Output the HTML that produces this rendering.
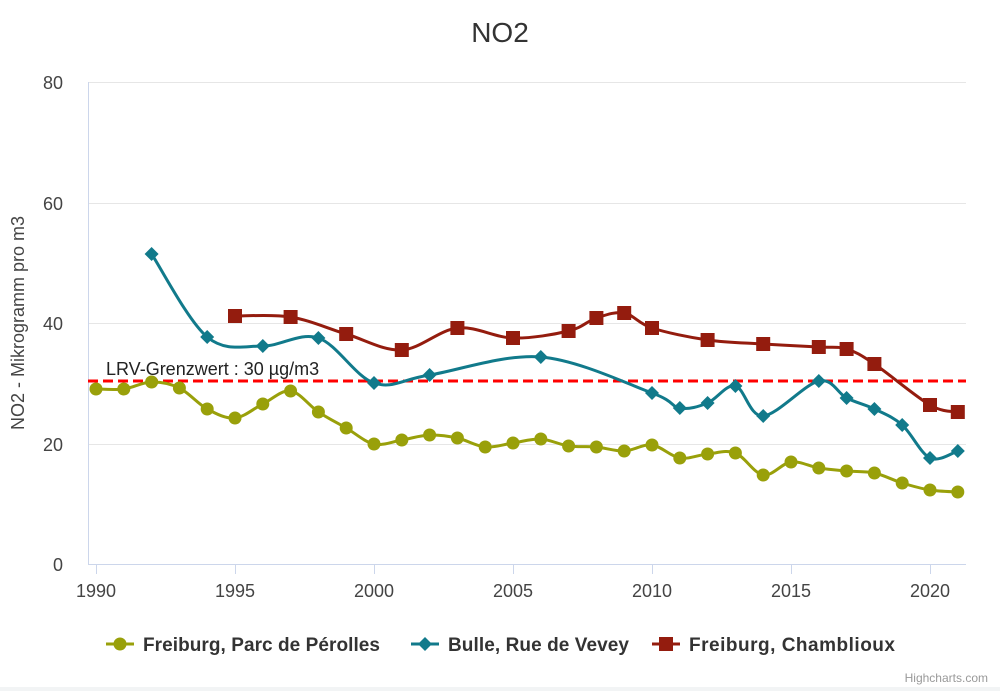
<!DOCTYPE html>
<html><head><meta charset="utf-8"><style>
body{margin:0;background:#fff;font-family:"Liberation Sans",sans-serif}
</style></head><body>
<svg id="c" width="1000" height="691" xmlns="http://www.w3.org/2000/svg" font-family="Liberation Sans, sans-serif">
<rect width="1000" height="691" fill="#fff"/>
<rect x="0" y="687" width="1000" height="4" fill="#f2f4f5"/>
<text x="500" y="42" text-anchor="middle" font-size="28" fill="#333">NO2</text>
<g stroke="#e6e6e6" stroke-width="1">
<line x1="88" x2="966" y1="82.5" y2="82.5"/><line x1="88" x2="966" y1="203.5" y2="203.5"/>
<line x1="88" x2="966" y1="323.5" y2="323.5"/><line x1="88" x2="966" y1="444.5" y2="444.5"/>
</g>
<line x1="88.5" y1="82" x2="88.5" y2="564" stroke="#ccd6eb"/>
<line x1="88" y1="564.5" x2="966" y2="564.5" stroke="#ccd6eb"/>
<g stroke="#ccd6eb"><line x1="96.5" x2="96.5" y1="564" y2="574"/><line x1="235.5" x2="235.5" y1="564" y2="574"/><line x1="374.5" x2="374.5" y1="564" y2="574"/><line x1="513.5" x2="513.5" y1="564" y2="574"/><line x1="652.5" x2="652.5" y1="564" y2="574"/><line x1="791.5" x2="791.5" y1="564" y2="574"/><line x1="930.5" x2="930.5" y1="564" y2="574"/></g>
<g font-size="18" fill="#444" text-anchor="end"><text x="63" y="89">80</text><text x="63" y="210">60</text><text x="63" y="330">40</text><text x="63" y="451">20</text><text x="63" y="571">0</text></g>
<g font-size="18" fill="#444" text-anchor="middle"><text x="96" y="597">1990</text><text x="235" y="597">1995</text><text x="374" y="597">2000</text><text x="513" y="597">2005</text><text x="652" y="597">2010</text><text x="791" y="597">2015</text><text x="930" y="597">2020</text></g>
<text transform="translate(24,323) rotate(-90)" text-anchor="middle" font-size="18" fill="#444">NO2 - Mikrogramm pro m3</text>
<line x1="88" x2="966" y1="381" y2="381" stroke="#f00" stroke-width="3" stroke-dasharray="10,5"/>
<text x="106" y="375" font-size="18" fill="#222">LRV-Grenzwert : 30 µg/m3</text>
<g id="series"></g>
<g font-size="19" font-weight="bold" fill="#333">
<line x1="106" x2="134" y1="644" y2="644" stroke="#99a00a" stroke-width="3"/><circle cx="120" cy="644" r="6.5" fill="#99a00a"/>
<text x="143" y="651" textLength="237">Freiburg, Parc de Pérolles</text>
<line x1="411" x2="439" y1="644" y2="644" stroke="#117a8b" stroke-width="3"/><path d="M425 637 L432 644 L425 651 L418 644Z" fill="#117a8b"/>
<text x="448" y="651" textLength="181">Bulle, Rue de Vevey</text>
<line x1="652" x2="680" y1="644" y2="644" stroke="#941c0e" stroke-width="3"/><rect x="659" y="637" width="14" height="14" fill="#941c0e"/>
<text x="689" y="651" textLength="206">Freiburg, Chamblioux</text>
</g>
<text x="988" y="682" text-anchor="end" font-size="12" fill="#999">Highcharts.com</text>
</svg>
<script>
function X(y){return 96+(y-1990)*27.8}
var G=[[1990,389],[1991,389],[1992,382],[1993,388],[1994,409],[1995,418],[1996,404],[1997,391],[1998,412],[1999,428],[2000,444],[2001,440],[2002,435],[2003,438],[2004,447],[2005,443],[2006,439],[2007,446],[2008,447],[2009,451],[2010,445],[2011,458],[2012,454],[2013,453],[2014,475],[2015,462],[2016,468],[2017,471],[2018,473],[2019,483],[2020,490],[2021,492]];
var T=[[1992,254],[1994,337],[1996,346],[1998,338],[2000,383],[2002,375],[2006,357],[2010,393],[2011,408],[2012,403],[2013,386],[2014,416],[2016,381],[2017,398],[2018,409],[2019,425],[2020,458],[2021,451]];
var R=[[1995,316],[1997,317],[1999,334],[2001,350],[2003,328],[2005,338],[2007,331],[2008,318],[2009,313],[2010,328],[2012,340],[2014,344],[2016,347],[2017,349],[2018,364],[2020,405],[2021,412]];
function path(d){var p=d.map(a=>[X(a[0]),a[1]]);var s="M"+p[0][0]+" "+p[0][1];
for(var i=0;i<p.length-1;i++){var a=p[i-1]||p[i],b=p[i],c=p[i+1],e=p[i+2]||c;
s+=" C"+(b[0]+(c[0]-a[0])/6)+" "+(b[1]+(c[1]-a[1])/6)+" "+(c[0]-(e[0]-b[0])/6)+" "+(c[1]-(e[1]-b[1])/6)+" "+c[0]+" "+c[1];}return s}
var h="";
[[G,"#99a00a","c"],[T,"#117a8b","d"],[R,"#941c0e","s"]].forEach(function(S){
h+='<path d="'+path(S[0])+'" fill="none" stroke="'+S[1]+'" stroke-width="3"/>';
S[0].forEach(function(a){var x=X(a[0]),y=a[1];
if(S[2]=="c")h+='<circle cx="'+x+'" cy="'+y+'" r="6.5" fill="'+S[1]+'"/>';
else if(S[2]=="d")h+='<path d="M'+x+' '+(y-7)+' L'+(x+7)+' '+y+' L'+x+' '+(y+7)+' L'+(x-7)+' '+y+'Z" fill="'+S[1]+'"/>';
else h+='<rect x="'+(x-7)+'" y="'+(y-7)+'" width="14" height="14" fill="'+S[1]+'"/>';});});
document.getElementById("series").innerHTML=h;
</script>
</body></html>
